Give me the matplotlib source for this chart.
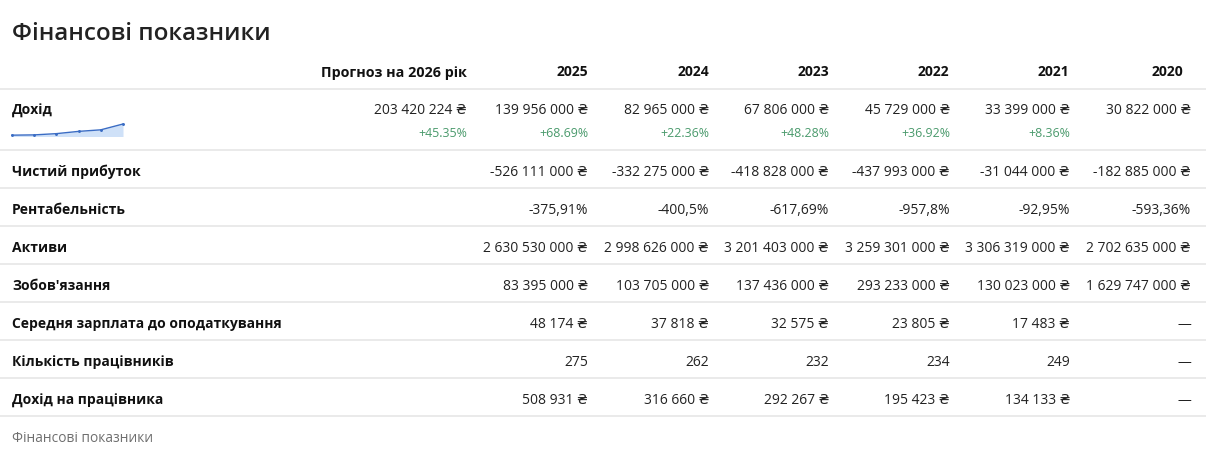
import matplotlib
matplotlib.use("Agg")
import matplotlib.pyplot as plt

plt.rcParams['font.family'] = ['Open Sans', 'DejaVu Sans']

# ---- data ----
title = "Фінансові показники"
footer = "Фінансові показники"
col_headers = ["Прогноз на 2026 рік", "2025", "2024", "2023", "2022", "2021", "2020"]
row_labels = ["Дохід", "Чистий прибуток", "Рентабельність", "Активи", "Зобов'язання",
              "Середня зарплата до оподаткування", "Кількість працівників", "Дохід на працівника"]

revenue = [203420224, 139956000, 82965000, 67806000, 45729000, 33399000, 30822000]
revenue_growth = [45.35, 68.69, 22.36, 48.28, 36.92, 8.36, None]
net_profit = [None, -526111000, -332275000, -418828000, -437993000, -31044000, -182885000]
margin = [None, -375.91, -400.5, -617.69, -957.8, -92.95, -593.36]
assets = [None, 2630530000, 2998626000, 3201403000, 3259301000, 3306319000, 2702635000]
liabilities = [None, 83395000, 103705000, 137436000, 293233000, 130023000, 1629747000]
avg_salary = [None, 48174, 37818, 32575, 23805, 17483, "dash"]
employees = [None, 275, 262, 232, 234, 249, "dash"]
revenue_per_emp = [None, 508931, 316660, 292267, 195423, 134133, "dash"]

spark_years = [2020, 2021, 2022, 2023, 2024, 2025]
spark_values = [30822000, 33399000, 45729000, 67806000, 82965000, 139956000]


def fmt_int(v):
    s = f"{abs(int(v)):,}".replace(",", " ")
    return ("-" if v < 0 else "") + s


def fmt_money(v):
    if v is None:
        return ""
    if v == "dash":
        return "—"
    return fmt_int(v) + " ₴"


def fmt_plain(v):
    if v is None:
        return ""
    if v == "dash":
        return "—"
    return fmt_int(v)


def fmt_margin(v):
    if v is None:
        return ""
    s = f"{v:.2f}".rstrip("0").rstrip(".")
    return s.replace(".", ",") + "%"


W, H = 1206, 456
fig = plt.figure(figsize=(W / 100, H / 100), dpi=100)
ax = fig.add_axes([0, 0, 1, 1])
ax.set_xlim(0, W)
ax.set_ylim(H, 0)
ax.axis("off")

TXT = "#222222"
LINE = "#e6e6e6"
GREEN = "#4a9a6c"

ax.text(12, 39.5, title, fontsize=17.4, fontweight="semibold", color="#222222",
        va="baseline", ha="left")

header_x = [467, 588, 709, 829, 949, 1069, 1183]
value_x = [467, 588, 709, 829, 950, 1070, 1191]

for i, (hx, h) in enumerate(zip(header_x, col_headers)):
    ax.text(hx, 76.5, h, fontsize=10.3 if i == 0 else 10, fontweight="bold",
            color="#111111", ha="right", va="baseline")

sep_y = [90, 151, 189, 227, 265, 303, 341, 379, 417]
for y in sep_y:
    ax.plot([0, W], [y, y], color=LINE, lw=1.2, solid_capstyle="butt")

row_base = [114.5, 176, 214, 252, 290, 328.5, 366.5, 404.5]
for y, lab in zip(row_base, row_labels):
    ax.text(12, y, lab, fontsize=10, fontweight="bold", color="#111111",
            ha="left", va="baseline")

rows = [
    [fmt_money(v) for v in revenue],
    [fmt_money(v) for v in net_profit],
    [fmt_margin(v) for v in margin],
    [fmt_money(v) for v in assets],
    [fmt_money(v) for v in liabilities],
    [fmt_money(v) for v in avg_salary],
    [fmt_plain(v) for v in employees],
    [fmt_money(v) for v in revenue_per_emp],
]
for y, vals in zip(row_base, rows):
    for x, s in zip(value_x, vals):
        if s:
            ax.text(x, y, s, fontsize=10, color=TXT, ha="right", va="baseline")

for x, g in zip(value_x, revenue_growth):
    if g is not None:
        ax.text(x, 137, f"+{g:.2f}%", fontsize=8.9, color=GREEN,
                ha="right", va="baseline")

ax.text(12, 442, footer, fontsize=9.9, color="#6f6f6f", ha="left", va="baseline")

# sparkline
sx0, sx1 = 12, 123
sy0, sy1 = 125, 137.5
sax = fig.add_axes([sx0 / W, 1 - sy1 / H, (sx1 - sx0) / W, (sy1 - sy0) / H])
sax.axis("off")
vmin, vmax = min(spark_values), max(spark_values)
rng = vmax - vmin
base = vmin - 0.12 * rng
sax.fill_between(spark_years, spark_values, base, color="#cfe1f8", lw=0)
sax.plot(spark_years, spark_values, color="#3a6cc4", lw=1.0, marker="o", ms=1.1,
         clip_on=False)
sax.set_xlim(spark_years[0], spark_years[-1])
sax.set_ylim(base, vmax)

fig.savefig("out.png", dpi=100, facecolor="white")
